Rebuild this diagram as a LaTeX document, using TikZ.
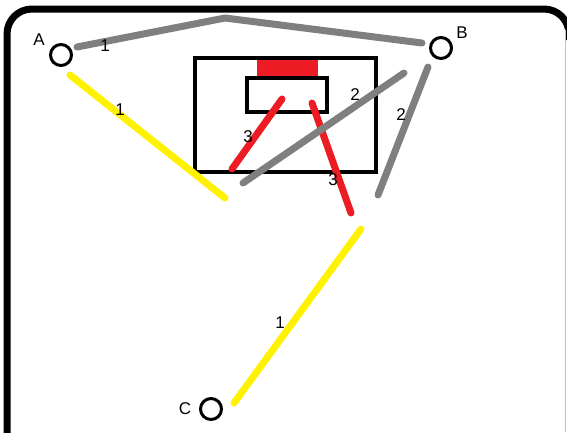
\documentclass[tikz,border=0pt]{standalone}
\usepackage{fontspec}
\setmainfont{Liberation Sans}
\definecolor{paintred}{RGB}{237,28,36}
\definecolor{paintyellow}{RGB}{255,242,0}
\definecolor{paintgray}{RGB}{127,127,127}
\begin{document}
\begin{tikzpicture}[x=1pt, y=-1pt, every node/.style={font=\fontsize{17}{20}\selectfont, inner sep=0pt},
    wire/.style={line width=7pt, line cap=round, line join=round},
    term/.style={circle, draw, line width=3pt, minimum size=21pt}]
    \useasboundingbox (0,0) rectangle (567,432);

    % Рамка
    \draw[line width=7pt, rounded corners=25pt] (7,440) -- (7,9) -- (569,9) -- (569,40);
    \draw[gray!50, line width=1pt] (565.5,30) -- (565.5,432);

    % Клеммы
    \node[term] (A) at (61,55) {};
    \node[term] (B) at (441,48) {};
    \node[term] (C) at (211,409) {};
    \node at (39,40) {A};
    \node at (462,33) {B};
    \node at (185,409) {C};

    % Корпус и вставка
    \draw[line width=4pt] (195,58) rectangle (376,172);
    \fill[paintred] (257,60) rectangle (318,76);
    \draw[line width=4pt] (247,78) rectangle (327,112);

    % Концы проводов
    \coordinate (a1) at (77,47);
    \coordinate (top) at (225,18);
    \coordinate (b1) at (422,43);
    \coordinate (a2) at (70,75);
    \coordinate (y1) at (225,198);
    \coordinate (r1) at (282,99);
    \coordinate (r2) at (232,169);
    \coordinate (r3) at (312,103);
    \coordinate (r4) at (351,213);
    \coordinate (g1) at (404,73);
    \coordinate (g2) at (243,183);
    \coordinate (b2) at (428,67);
    \coordinate (g3) at (378,195);
    \coordinate (y2) at (361,229);
    \coordinate (c1) at (234,403);

    % Провод 1 (серый)
    \draw[wire, paintgray] (a1) -- (top) -- (b1);
    \node at (105,46) {1};

    % Провода 1 (жёлтые)
    \draw[wire, paintyellow] (a2) -- (y1);
    \node at (120,110) {1};
    \draw[wire, paintyellow] (y2) -- (c1);
    \node at (280,323) {1};

    % Провода 3 (красные)
    \draw[wire, paintred] (r1) -- (r2);
    \node at (248,137) {3};
    \draw[wire, paintred] (r3) -- (r4);
    \node at (333,180) {3};

    % Провода 2 (серые)
    \draw[wire, paintgray] (g1) -- (g2);
    \node at (355,95) {2};
    \draw[wire, paintgray] (b2) -- (g3);
    \node at (401,115) {2};
\end{tikzpicture}
\end{document}
